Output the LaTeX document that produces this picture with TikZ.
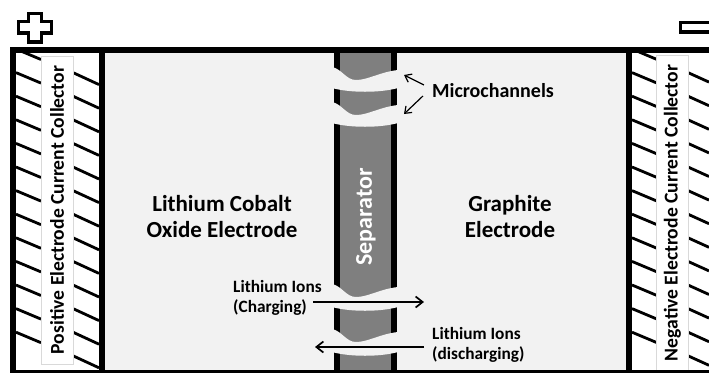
\documentclass[tikz,border=0pt]{standalone}
\usepackage{fontspec}
\setmainfont{Carlito}
\usetikzlibrary{arrows.meta,positioning,calc}
\definecolor{elec}{HTML}{F2F2F2}
\definecolor{sep}{HTML}{7F7F7F}

\begin{document}
\begin{tikzpicture}[
    x=1pt,y=-1pt,
    label/.style={font=\fontsize{#1}{#1}\selectfont\bfseries,align=center,inner sep=0pt},
    panel/.style={rectangle,draw=black!15,fill=white,line width=0.6pt,rotate=90,minimum width=308pt,minimum height=32pt,inner sep=0pt,font=\fontsize{19.6}{19.6}\selectfont\bfseries},
    sepbar/.style={line width=6.2pt},
    hatch/.style={line width=2.8pt},
    arr/.style={-{Straight Barb[length=6pt,width=9pt]},line width=1.2pt},
    arrthick/.style={-{Straight Barb[length=7pt,width=11pt]},line width=1.7pt},
    sign/.style={draw,line width=3.4pt,fill=white,miter limit=10},
]
\useasboundingbox (0,0) rectangle (709,373);

% Electrodes
\fill[elec] (99,50) rectangle (630,372);

% Hatching
\foreach \k in {0,...,12}{
  \pgfmathsetmacro{\hy}{49+23.6*\k}
  \pgfmathsetmacro{\hyb}{\hy+10.5}
  \draw[hatch] (16,\hy) -- (41,\hyb);
  \draw[hatch] (632,\hy) -- (657,\hyb);
}
\foreach \k in {1,...,13}{
  \pgfmathsetmacro{\hy}{49+23.6*\k}
  \pgfmathsetmacro{\hyb}{\hy+12}
  \pgfmathsetmacro{\hyc}{\hy+9.5}
  \draw[hatch] (73,\hy) -- (99,\hyb);
  \draw[hatch] (688,\hy) -- (709,\hyc);
}

% Collector panels
\node[panel] (poslabel) at (57,210) {Positive Electrode Current Collector};
\node[panel,minimum width=316pt] (neglabel) at (672.5,213) {Negative Electrode Current Collector};

% Separator
\fill[sep] (340,50) rectangle (391,371);
\draw[sepbar] (337,50) -- (337,371);
\draw[sepbar] (394,50) -- (394,371);

% Microchannels
\foreach \cy/\ch in {67/21,102/21,284/23,329/23}{
  \fill[elec] (332,\cy) .. controls (342,\cy+2) and (346,\cy+13) .. (356,\cy+13)
    .. controls (368,\cy+13) and (380,\cy+5) .. (398,\cy+3)
    -- (398,\cy+\ch) .. controls (380,\cy+\ch+5) and (350,\cy+\ch+5) .. (332,\cy+\ch) -- cycle;
}

% Frame
\draw[line width=6pt] (709,49.5) -- (13,49.5) -- (13,373);
\draw[line width=6pt] (101.5,49.5) -- (101.5,373);
\draw[line width=6pt] (629,49.5) -- (629,373);
\draw[line width=3pt] (10,371.5) -- (709,371.5);

% Signs
\draw[sign] (28.5,13.5) -- (41.5,13.5) -- (41.5,21.5) -- (51.5,21.5) -- (51.5,33) -- (41.5,33) -- (41.5,42) -- (28.5,42) -- (28.5,33) -- (18.5,33) -- (18.5,21.5) -- (28.5,21.5) -- cycle;
\draw[sign] (712,22.5) -- (680.5,22.5) -- (680.5,32) -- (712,32);

% Labels
\node[label=23] (cathode) at (222,217) {Lithium Cobalt\\[3pt]Oxide Electrode};
\node[label=23] (anode) at (510,217) {Graphite\\[3pt]Electrode};
\node[label=24,white,rotate=90] (seplabel) at (366,217) {Separator};
\node[label=20] (micro) at (493,91) {Microchannels};
\node[label=17.3,align=left,anchor=west] (charge) at (233,298) {Lithium Ions\\[2pt](Charging)};
\node[label=17.3,align=left,anchor=west] (discharge) at (432,345) {Lithium Ions\\[2pt](discharging)};

% Arrows
\coordinate (ch1) at (404,75);
\coordinate (ch2) at (404,114);
\coordinate (chargeend) at (424,302);
\coordinate (chargestart) at (313,302);
\coordinate (dischargeend) at (315,347);
\coordinate (dischargestart) at (424,347);
\draw[arr] (micro.west)+(-8,-6) -- (ch1);
\draw[arr] (micro.west)+(-9,5) -- (ch2);
\draw[arrthick] (chargestart) -- (chargeend);
\draw[arrthick] (dischargestart) -- (dischargeend);
\end{tikzpicture}
\end{document}
